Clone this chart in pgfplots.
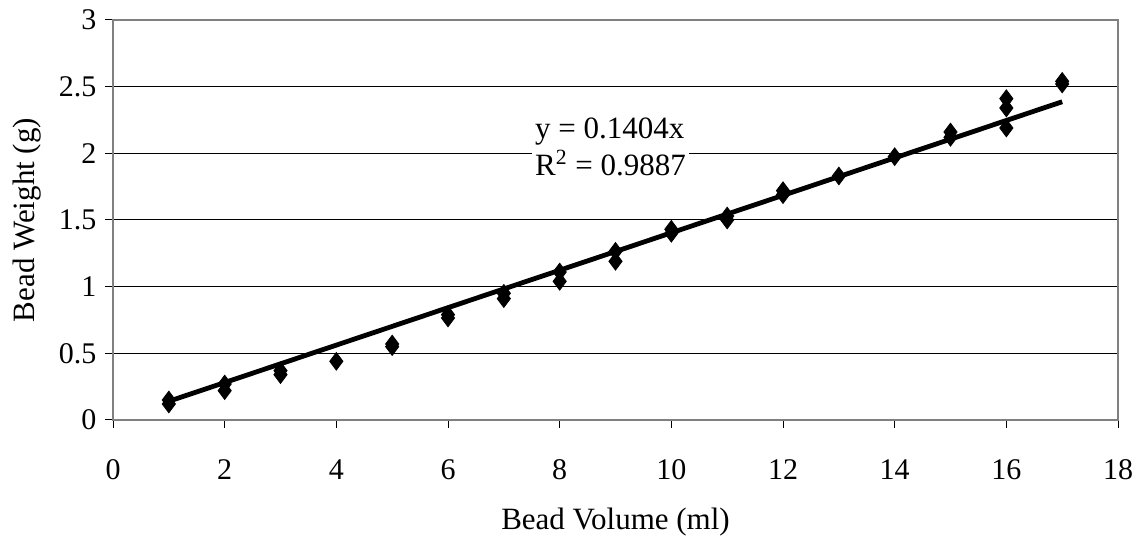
\documentclass[border=0pt]{standalone}
\usepackage{fontspec}
\setmainfont{Liberation Serif}
\usepackage{pgfplots}
\pgfplotsset{compat=1.18}
\begin{document}
\fontsize{15.5}{18.5}\selectfont
\begin{tikzpicture}
\begin{axis}[
    name=ax,
    scale only axis,
    width=502.5pt, height=200pt,
    xmin=0, xmax=18, ymin=0, ymax=3,
    xtick={0,2,...,18},
    ytick={0,0.5,...,3},
    axis line style={draw=gray, line width=1pt},
    ymajorgrids,
    major grid style={black, line width=0.5pt},
    tick align=outside,
    xtick pos=bottom, ytick pos=left,
    major tick length=4pt,
    tick style={black, line width=0.5pt},
    /pgf/number format/assume math mode=true,
    ticklabel style={font=\fontsize{15}{17}\selectfont},
    xticklabel style={anchor=center, yshift=-21pt},
    yticklabel style={anchor=east, xshift=1pt},
    every axis x label/.style={at={(axis description cs:0.5,0)}, anchor=center, yshift=-51pt},
    every axis y label/.style={at={([xshift=-43pt]axis description cs:0,0.5)}, anchor=center, rotate=90},
    xlabel={Bead Volume (ml)},
    ylabel={Bead Weight (g)},
    clip=false,
]
\addplot[only marks, mark=diamond*, mark size=4.4pt, black, mark options={fill=black}] coordinates {
    (1,0.15) (1,0.12)
    (2,0.27) (2,0.22)
    (3,0.37) (3,0.34)
    (4,0.44)
    (5,0.57) (5,0.55)
    (6,0.79) (6,0.765)
    (7,0.95) (7,0.91)
    (8,1.11) (8,1.04)
    (9,1.265) (9,1.19)
    (10,1.43) (10,1.40)
    (11,1.53) (11,1.50)
    (12,1.72) (12,1.69)
    (13,1.83)
    (14,1.975)
    (15,2.16) (15,2.12)
    (16,2.41) (16,2.34) (16,2.19)
    (17,2.54) (17,2.52)
};
% linear trendline through the origin, y = 0.1404x
\addplot[black, line width=2.4pt, no marks] coordinates {(1,0.1404) (17,2.3868)};
\node[fill=white, anchor=west, align=left, inner sep=1.5pt] at (axis cs:7.5,2.05)
    {y = 0.1404x\\R\textsuperscript{2} = 0.9887};
\end{axis}
\pgfresetboundingbox
\path[use as bounding box] ([shift={(-56.5pt,-61.5pt)}]ax.south west) rectangle ([shift={(10pt,10pt)}]ax.north east);
\end{tikzpicture}
\end{document}
